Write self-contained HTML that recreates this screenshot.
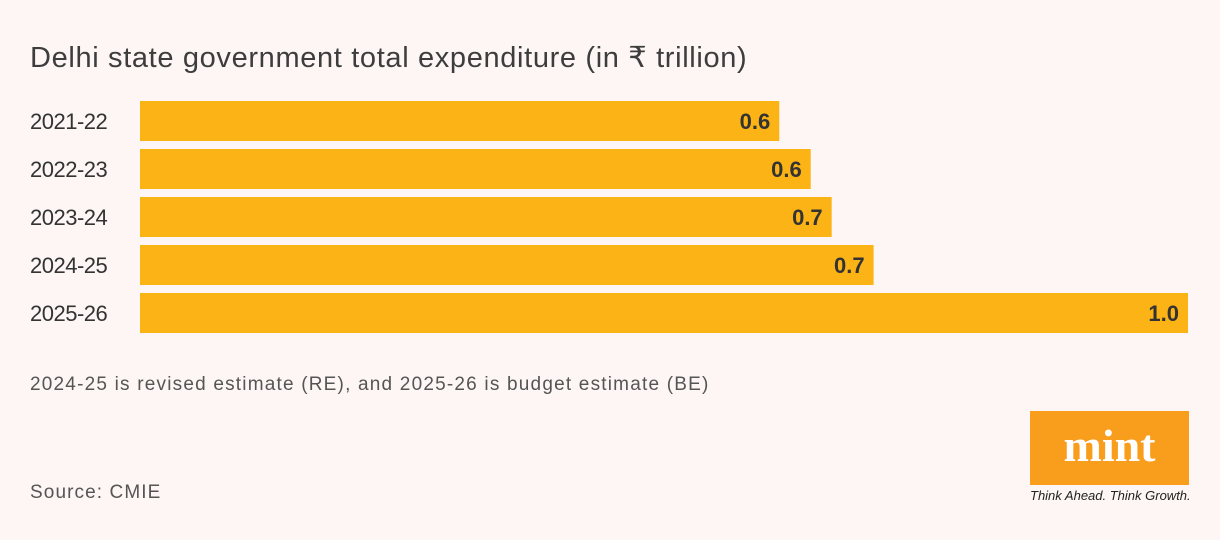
<!DOCTYPE html>
<html><head><meta charset="utf-8">
<style>
body{margin:0;width:1220px;height:540px;background:#fdf6f4;font-family:"Liberation Sans",sans-serif;position:relative;overflow:hidden}
.t{position:absolute;color:#444}
</style></head><body>
<div class="t" style="left:30px;top:40px;font-size:29px;color:#3d3d3d;letter-spacing:0.65px;">Delhi state government total expenditure (in ₹ trillion)</div>
<svg id="chart" width="1220" height="345" style="position:absolute;left:0;top:0"></svg>
<div class="t" style="left:30px;top:374px;font-size:19px;color:#555;letter-spacing:1.2px;">2024-25 is revised estimate (RE), and 2025-26 is budget estimate (BE)</div>
<div class="t" style="left:30px;top:482px;font-size:19px;color:#555;letter-spacing:1.1px;">Source: CMIE</div>
<div style="position:absolute;left:1030px;top:411px;width:159px;height:74px;background:#f99d1c;color:#fff;font-family:'Liberation Serif',serif;font-weight:bold;font-size:46px;text-align:center;line-height:70px;">mint</div>
<div class="t" style="left:1030px;top:488px;font-size:13px;font-style:italic;color:#222;letter-spacing:0px;">Think Ahead. Think Growth.</div>
<script>
const categories=["2021-22","2022-23","2023-24","2024-25","2025-26"];
const values=[0.61,0.64,0.66,0.70,1.0];
const labels=["0.6","0.6","0.7","0.7","1.0"];
const svg=document.getElementById('chart');
const NS="http://www.w3.org/2000/svg";
const x0=140,xScale=v=>v*1048;
const yPos=i=>101+i*48;
categories.forEach((c,i)=>{
 const y=yPos(i),w=xScale(values[i]);
 const r=document.createElementNS(NS,'rect');
 r.setAttribute('x',x0);r.setAttribute('y',y);r.setAttribute('width',w);r.setAttribute('height',40);r.setAttribute('fill','#fcb316');
 
 
 svg.appendChild(r);
 const l=document.createElementNS(NS,'text');
 l.setAttribute('x',30);l.setAttribute('y',y+28);l.setAttribute('font-size','22');l.setAttribute('fill','#333');l.setAttribute('letter-spacing','-0.5');
 l.textContent=c;
 
 
 svg.appendChild(l);
 const v=document.createElementNS(NS,'text');
 v.setAttribute('x',x0+w-9);v.setAttribute('y',y+28);v.setAttribute('font-size','22');v.setAttribute('font-weight','bold');v.setAttribute('fill','#333');v.setAttribute('text-anchor','end');
 v.textContent=labels[i];
 
 
 svg.appendChild(v);
});
</script>
</body></html>
